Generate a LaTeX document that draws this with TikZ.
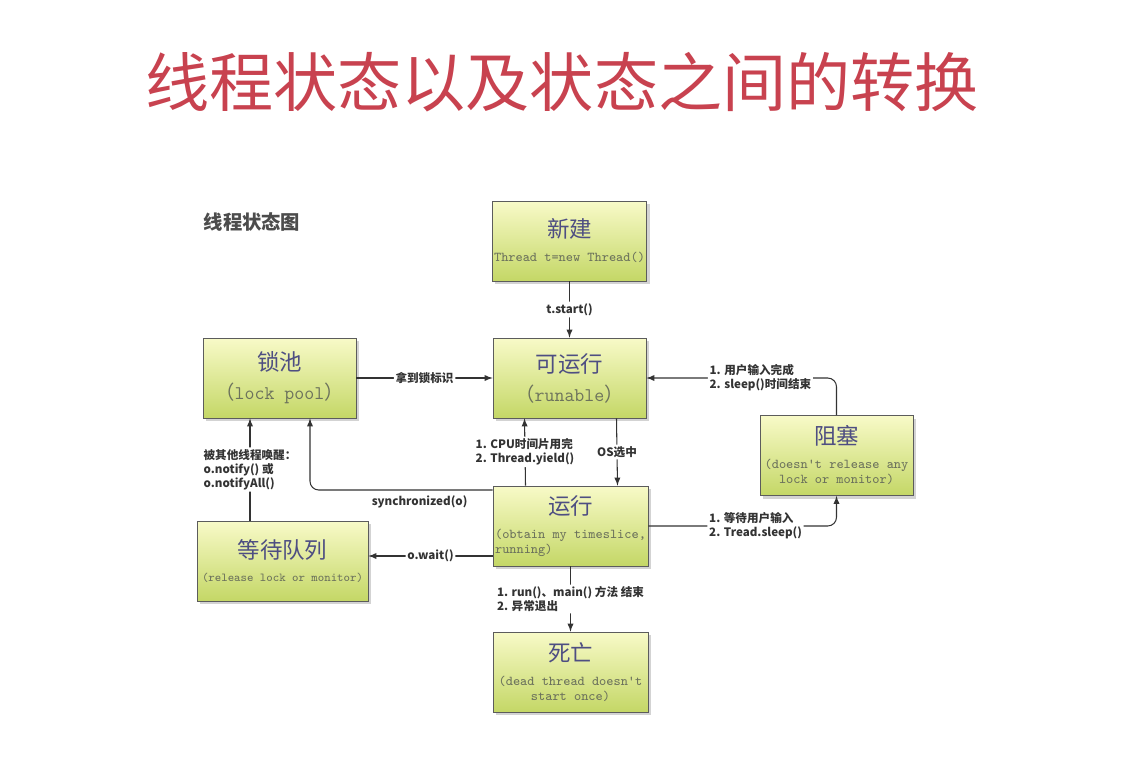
\documentclass[tikz,border=0pt]{standalone}
\usepackage{fontspec}
\usepackage{xcolor}
\newfontfamily\cjk{Noto Sans CJK SC}
\usetikzlibrary{arrows,shapes,positioning,shadows}

\definecolor{titlered}{HTML}{C8424F}
\definecolor{boxtop}{HTML}{F8FAC8}
\definecolor{boxbot}{HTML}{C4D766}
\definecolor{boxtext}{HTML}{4E4E82}
\definecolor{subtext}{HTML}{6C725C}
\definecolor{edge}{HTML}{333333}

\newcommand{\boxhead}[1]{{\cjk\fontsize{12.8}{15}\selectfont\color{boxtext}#1}}
\newcommand{\boxsub}[1]{{\ttfamily\fontsize{7.7}{9}\selectfont\color{subtext}#1}}
\newcommand{\boxsmall}[1]{{\ttfamily\fontsize{6.9}{8}\selectfont\color{subtext}#1}}
\newcommand{\boxbig}[1]{{\fontsize{11}{13}\selectfont\color{subtext}{\cjk （}\ttfamily #1{\cjk ）}}}

\begin{document}
\begin{tikzpicture}[x=0.02cm,y=-0.02cm,
  box/.style={draw=edge!80,thin,top color=boxtop,bottom color=boxbot,minimum width=3.06cm,minimum height=1.6cm,align=center,inner sep=1pt,font=\fontsize{7.7}{8.6}\selectfont,drop shadow={opacity=0.35,shadow xshift=0.06cm,shadow yshift=-0.06cm}},
  lbl/.style={font=\cjk\bfseries\fontsize{6.6}{8}\selectfont,text=edge,fill=white,inner sep=1pt,align=left},
  arr/.style={-latex,semithick,draw=edge,rounded corners=5pt}]
\useasboundingbox (0,0) rectangle (1132,762);
% Titles
\node[font=\cjk\fontsize{36.5}{40}\selectfont,text=titlered] (title) at (562,82) {线程状态以及状态之间的转换};
\node[font=\cjk\bfseries\fontsize{11}{13}\selectfont,text=black!70] (caption) at (252,222) {线程状态图};

% States
\node[box] (xinjian) at (569.5,241) {\boxhead{新建}\\[5pt]\boxsub{Thread t=new Thread()}};
\node[box] (kyx) at (569.5,378) {\boxhead{可运行}\\[5pt]\boxbig{runable}};
\node[box] (suochi) at (279.5,378) {\boxhead{锁池}\\[5pt]\boxbig{lock pool}};
\node[box] (zusai) at (836.5,455.5) {\boxhead{阻塞}\\[5pt]\boxsub{(doesn't release any}\\\boxsub{lock or monitor)}};
\node[box,minimum width=3.1cm] (yx) at (570.5,526) {\boxhead{运行}\\[5pt]\boxsub{(obtain my timeslice,}\\\boxsub{running)\hphantom{xxxxxxxxxxxxx}}};
\node[box,minimum width=3.42cm] (dengdai) at (282.5,561) {\boxhead{等待队列}\\[5pt]\boxsmall{(release lock or monitor)}};
\node[box,minimum width=3.1cm] (siwang) at (570.5,672) {\boxhead{死亡}\\[5pt]\boxsub{(dead thread doesn't}\\\boxsub{start once)}};

% Transitions
\draw[arr] (xinjian) -- node[lbl] {t.start()} (kyx);
\draw[arr] (suochi) -- node[lbl] {拿到锁标识} (kyx);
\draw[arr] (zusai.north) |- node[lbl,pos=0.7] {1. 用户输入完成\\2. sleep()时间结束} (kyx.east);
\draw[arr] (yx.east) -| node[lbl,pos=0.285] {1. 等待用户输入\\2. Tread.sleep()} (zusai.south);
\draw[arr] ([xshift=-0.9cm]yx.north) -- node[lbl] {1. CPU时间片用完\\2. Thread.yield()} ([xshift=-0.9cm]kyx.south);
\draw[arr] ([xshift=0.94cm]kyx.south) -- node[lbl] {OS选中} ([xshift=0.94cm]yx.north);
\draw[arr] ([yshift=0.72cm]yx.west) -| node[lbl,below=2pt,pos=0.2,fill=none] {synchronized(o)} ([xshift=0.61cm]suochi.south);
\draw[arr] ([yshift=-0.6cm]yx.west) -- node[lbl] {o.wait()} ([yshift=-0.6cm]yx.west -| dengdai.east);
\draw[arr] ([xshift=-0.65cm]dengdai.north) -- node[lbl] {被其他线程唤醒：\\o.notify() 或\\o.notifyAll()} ([xshift=-0.65cm]dengdai.north |- suochi.south);
\draw[arr] (yx) -- node[lbl] {1. run()、main() 方法 结束\\2. 异常退出} (siwang);
\end{tikzpicture}
\end{document}
